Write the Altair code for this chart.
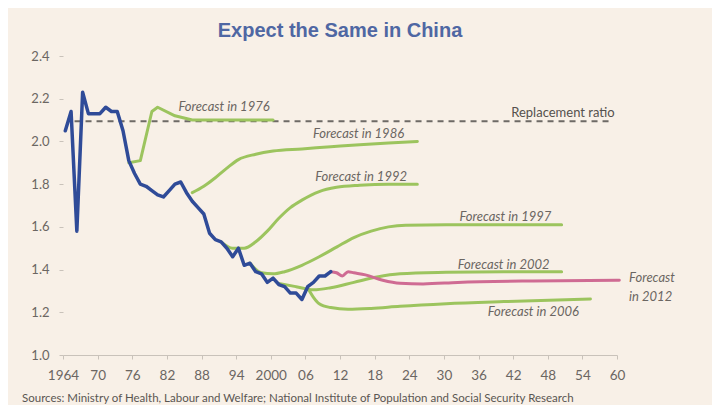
import altair as alt
import pandas as pd

# ---- data ----
actual_years = list(range(1964, 2011))
actual_vals = [2.05, 2.14, 1.58, 2.23, 2.13, 2.13, 2.13, 2.16, 2.14, 2.14,
               2.05, 1.91, 1.85, 1.80, 1.79, 1.77, 1.75, 1.74, 1.77, 1.80,
               1.81, 1.76, 1.72, 1.69, 1.66, 1.57, 1.54, 1.53, 1.50, 1.46,
               1.50, 1.42, 1.43, 1.39, 1.38, 1.34, 1.36, 1.33, 1.32, 1.29,
               1.29, 1.26, 1.32, 1.34, 1.37, 1.37, 1.39]

f1976_years = [1975, 1977, 1979, 1980, 1983, 1986, 2000]
f1976_vals = [1.90, 1.91, 2.14, 2.16, 2.12, 2.10, 2.10]

f1986_years = [1986, 1988, 1990, 1992, 1994, 1997, 2000, 2005, 2010, 2015, 2020, 2025]
f1986_vals = [1.76, 1.79, 1.83, 1.875, 1.915, 1.94, 1.955, 1.965, 1.975, 1.985, 1.993, 2.00]

f1992_years = [1991, 1993, 1995, 1997, 1999, 2001, 2003, 2005, 2008, 2011, 2015, 2020, 2025]
f1992_vals = [1.53, 1.50, 1.50, 1.53, 1.58, 1.64, 1.69, 1.725, 1.765, 1.785, 1.795, 1.80, 1.80]

f1997_years = [1996, 1998, 2000, 2002, 2005, 2008, 2011, 2014, 2017, 2020, 2023, 2030, 2040, 2050]
f1997_vals = [1.43, 1.385, 1.38, 1.39, 1.42, 1.46, 1.505, 1.55, 1.58, 1.60, 1.608, 1.61, 1.61, 1.61]

f2002_years = [2001, 2004, 2007, 2010, 2014, 2018, 2022, 2030, 2040, 2050]
f2002_vals = [1.335, 1.32, 1.305, 1.315, 1.34, 1.365, 1.38, 1.387, 1.39, 1.39]

f2006_years = [2006, 2007, 2008, 2010, 2013, 2017, 2022, 2030, 2040, 2055]
f2006_vals = [1.315, 1.27, 1.24, 1.222, 1.214, 1.218, 1.228, 1.24, 1.25, 1.262]

f2012_years = [2010, 2011, 2012, 2013, 2014, 2016, 2019, 2022, 2026, 2032, 2045, 2060]
f2012_vals = [1.39, 1.385, 1.37, 1.39, 1.385, 1.375, 1.35, 1.336, 1.333, 1.34, 1.347, 1.35]

replacement_start = [1966]
replacement_end = [2059]
replacement_val = [2.095]

label_texts = ["Forecast in 1976", "Forecast in 1986", "Forecast in 1992",
               "Forecast in 1997", "Forecast in 2002", "Forecast in 2006",
               "Forecast", "in 2012"]
label_years = [1984.0, 2007.3, 2007.7, 2032.7, 2032.4, 2037.6, 2062.1, 2062.1]
label_vals = [2.163, 2.035, 1.835, 1.648, 1.422, 1.203, 1.359, 1.273]

repl_text = ["Replacement ratio"]
repl_year = [2059.6]
repl_vals = [2.133]

x_ticks = list(range(1964, 2061, 6))
y_ticks = [1.0, 1.2, 1.4, 1.6, 1.8, 2.0, 2.2, 2.4]

# ---- build tables ----
series = [
    ("f1976", "forecast", f1976_years, f1976_vals),
    ("f1986", "forecast", f1986_years, f1986_vals),
    ("f1992", "forecast", f1992_years, f1992_vals),
    ("f1997", "forecast", f1997_years, f1997_vals),
    ("f2002", "forecast", f2002_years, f2002_vals),
    ("f2006", "forecast", f2006_years, f2006_vals),
    ("f2012", "forecast2012", f2012_years, f2012_vals),
    ("actual", "actual", actual_years, actual_vals),
]
rows = []
for name, kind, ys, vs in series:
    for y, v in zip(ys, vs):
        rows.append({"series": name, "kind": kind, "year": y, "value": v})
lines_df = pd.DataFrame(rows)

rep_df = pd.DataFrame({"start": replacement_start, "end": replacement_end, "value": replacement_val})
lab_df = pd.DataFrame({"text": label_texts, "year": label_years, "value": label_vals})
repl_lab_df = pd.DataFrame({"text": repl_text, "year": repl_year, "value": repl_vals})

xscale = alt.Scale(domain=[1964, 2060], nice=False, zero=False)
yscale = alt.Scale(domain=[1.0, 2.4], nice=False, zero=False)

label_color = "#6b6662"
FONT = "Lato"
GREEN = "#9cc45e"
PINK = "#cf6b93"
BLUE = "#2f4b98"

x_axis = alt.Axis(values=x_ticks, title=None, grid=False,
                  labelExpr="datum.value == 1964 || datum.value == 2000 ? '' + datum.value : substring('' + datum.value, 2)",
                  domainColor="#c9c2ba", tickColor="#c9c2ba", tickSize=4,
                  labelColor=label_color, labelFontSize=13.5, labelFont=FONT,
                  labelPadding=9, labelFlush=False, labelOverlap=False)
y_axis = alt.Axis(values=y_ticks, title=None, grid=False, domain=False,
                  format=".1f", tickColor="#c9c2ba", tickSize=4,
                  labelColor=label_color, labelFontSize=13, labelFont=FONT,
                  labelPadding=10, labelOverlap=False)


def X(field):
    return alt.X(field, scale=xscale, axis=x_axis)


def Y(field):
    return alt.Y(field, scale=yscale, axis=y_axis)


rep = alt.Chart(rep_df).mark_rule(color="#6e6a66", strokeWidth=2, strokeDash=[6, 5]).encode(
    x=X("start:Q"),
    x2="end:Q",
    y=Y("value:Q"),
)

base = alt.Chart(lines_df).transform_calculate(xpos="datum.year + 0.4")


def line_layer(filter_expr, color, width, interp):
    return base.transform_filter(filter_expr).mark_line(
        color=color, strokeWidth=width, interpolate=interp,
        strokeJoin="round", strokeCap="round"
    ).encode(
        x=X("xpos:Q"),
        y=Y("value:Q"),
        detail="series:N",
        order=alt.Order("year:Q"),
    )


f76 = line_layer("datum.series == 'f1976'", GREEN, 3, "linear")
fgreen = line_layer("datum.kind == 'forecast' && datum.series != 'f1976'", GREEN, 3, "monotone")
fpink = line_layer("datum.kind == 'forecast2012'", PINK, 3, "monotone")
actual = line_layer("datum.kind == 'actual'", BLUE, 3.5, "linear")

labels = alt.Chart(lab_df).mark_text(align="left", baseline="middle", fontStyle="italic",
                                     fontSize=13, font=FONT, color=label_color).encode(
    x=X("year:Q"),
    y=Y("value:Q"),
    text="text:N",
)

repl_label = alt.Chart(repl_lab_df).mark_text(align="right", baseline="middle",
                                              fontSize=13, font=FONT, color="#55514d").encode(
    x=X("year:Q"),
    y=Y("value:Q"),
    text="text:N",
)

source = alt.Chart(pd.DataFrame({"t": ["Sources: Ministry of Health, Labour and Welfare; National Institute of Population and Social Security Research"]})).mark_text(
    align="left", baseline="middle", fontSize=11.5, font=FONT, color="#5a5652"
).encode(x=alt.value(-41), y=alt.value(343), text="t:N")

chart = alt.layer(rep, f76, fgreen, fpink, actual, labels, repl_label, source).properties(
    width=554, height=299,
    title=alt.TitleParams("Expect the Same in China", fontSize=20, font="Liberation Sans",
                          fontWeight="bold", color="#4f67a3", anchor="middle", offset=9),
    autosize=alt.AutoSizeParams(type="none"),
    padding={"left": 55, "top": 48, "right": 95, "bottom": 50},
    background="#f8f0e7",
).configure_view(stroke=None).configure_axisX(labelOverlap=False).configure_axis(labelOverlap=False)

chart.save("out.html", embed_options={"renderer": "svg", "actions": False})
